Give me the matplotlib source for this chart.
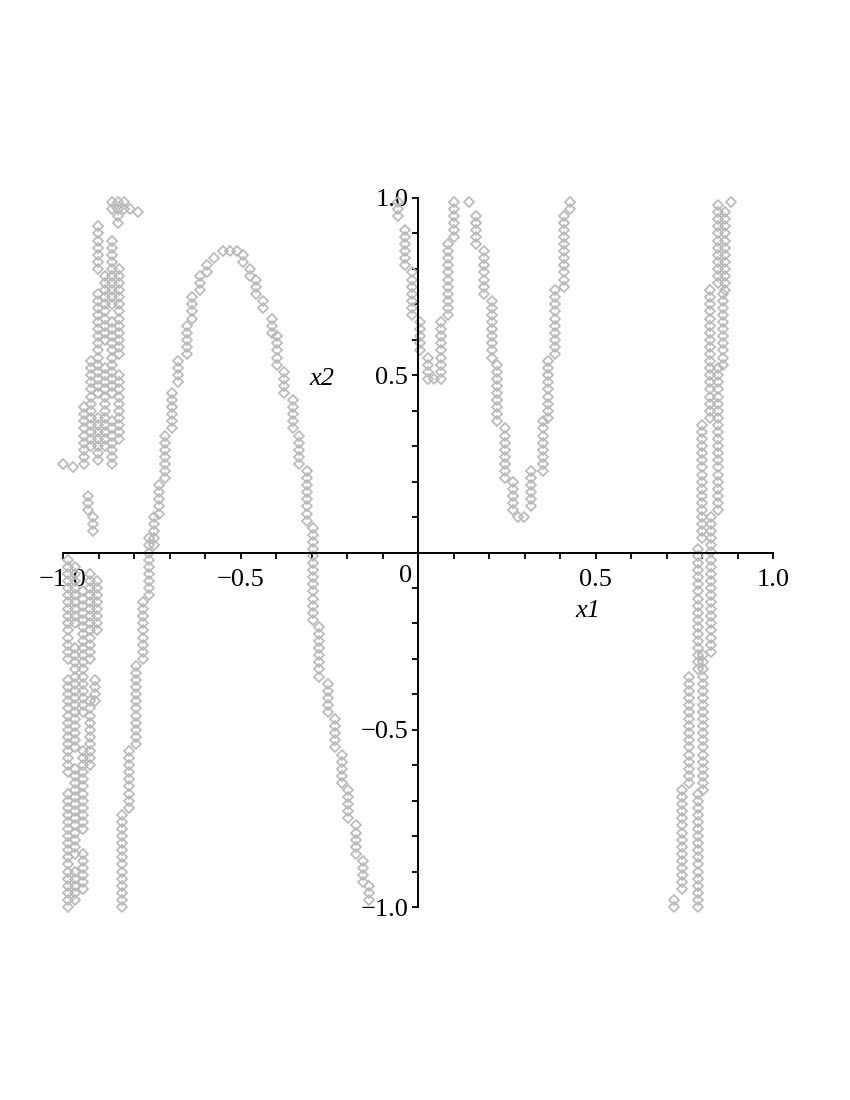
import matplotlib
matplotlib.use("Agg")
import matplotlib.pyplot as plt
import matplotlib.ticker as ticker
import numpy as np

# Vertical runs of markers: (x, y_low, y_high).
# Markers in a run sit on the plot's sampling grid of Y_STEP.
Y_STEP = 0.02

left_cloud_top = [
    (-0.862, 0.97, 0.99), (-0.845, 0.93, 0.99), (-0.828, 0.97, 0.99),
    (-0.810, 0.97, 0.97), (-0.789, 0.96, 0.96),
    (-0.901, 0.80, 0.93), (-0.901, 0.45, 0.73), (-0.901, 0.26, 0.38),
    (-0.882, 0.60, 0.78), (-0.882, 0.30, 0.52),
    (-0.862, 0.70, 0.88), (-0.862, 0.45, 0.65), (-0.862, 0.25, 0.38),
    (-0.842, 0.56, 0.80), (-0.842, 0.32, 0.50),
    (-0.921, 0.30, 0.55), (-0.941, 0.25, 0.42),
    (-1.000, 0.25, 0.25), (-0.972, 0.24, 0.24),
    (-0.930, 0.12, 0.16), (-0.915, 0.06, 0.10),
]

left_cloud_bottom = [
    (-0.985, -0.30, -0.02), (-0.985, -0.62, -0.36), (-0.985, -1.00, -0.68),
    (-0.965, -0.20, -0.04), (-0.965, -0.55, -0.26), (-0.965, -0.85, -0.60),
    (-0.965, -0.98, -0.90),
    (-0.945, -0.45, -0.10), (-0.945, -0.78, -0.55), (-0.945, -0.95, -0.84),
    (-0.925, -0.30, -0.06), (-0.925, -0.60, -0.42),
    (-0.905, -0.22, -0.08), (-0.910, -0.42, -0.36),
]

hump = [
    (-0.834, -1.00, -0.73), (-0.813, -0.72, -0.55), (-0.794, -0.54, -0.32),
    (-0.775, -0.30, -0.14), (-0.758, -0.12, 0.04), (-0.745, 0.02, 0.10),
    (-0.730, 0.11, 0.20), (-0.713, 0.21, 0.34), (-0.693, 0.35, 0.46),
    (-0.676, 0.48, 0.55), (-0.651, 0.56, 0.65), (-0.637, 0.66, 0.72),
    (-0.614, 0.74, 0.78), (-0.594, 0.79, 0.82), (-0.575, 0.83, 0.84),
    (-0.549, 0.85, 0.85), (-0.530, 0.85, 0.85), (-0.510, 0.85, 0.85),
    (-0.493, 0.82, 0.84), (-0.473, 0.78, 0.80), (-0.456, 0.73, 0.77),
    (-0.437, 0.69, 0.72), (-0.411, 0.62, 0.67), (-0.397, 0.53, 0.61),
    (-0.377, 0.45, 0.52), (-0.352, 0.35, 0.44), (-0.335, 0.25, 0.34),
    (-0.313, 0.09, 0.24), (-0.296, -0.19, 0.08), (-0.279, -0.35, -0.20),
    (-0.254, -0.45, -0.37), (-0.234, -0.55, -0.47), (-0.214, -0.65, -0.56),
    (-0.197, -0.75, -0.66), (-0.175, -0.85, -0.76), (-0.155, -0.93, -0.86),
    (-0.138, -0.98, -0.94),
]

w_small = [
    (-0.056, 0.95, 0.99), (-0.037, 0.81, 0.91), (-0.017, 0.67, 0.79),
    (0.006, 0.57, 0.66), (0.028, 0.49, 0.55), (0.045, 0.49, 0.49),
    (0.065, 0.49, 0.66), (0.085, 0.67, 0.88), (0.101, 0.89, 0.99),
]

w_big = [
    (0.144, 0.99, 0.99), (0.163, 0.87, 0.96), (0.186, 0.73, 0.85),
    (0.208, 0.55, 0.72), (0.222, 0.37, 0.54), (0.245, 0.21, 0.36),
    (0.268, 0.12, 0.20), (0.282, 0.10, 0.10), (0.299, 0.10, 0.10),
    (0.318, 0.13, 0.24), (0.352, 0.23, 0.37), (0.366, 0.38, 0.55),
    (0.386, 0.56, 0.74), (0.411, 0.75, 0.96), (0.428, 0.97, 0.99),
]

right_pair_a = [
    (0.721, -1.00, -0.97), (0.744, -0.95, -0.67), (0.763, -0.65, -0.35),
    (0.789, -0.33, 0.02), (0.800, 0.04, 0.37), (0.823, 0.38, 0.75),
    (0.845, 0.76, 0.99),
]

right_pair_b = [
    (0.789, -1.00, -0.68), (0.803, -0.67, -0.29), (0.825, -0.28, 0.11),
    (0.845, 0.12, 0.52), (0.859, 0.53, 0.73), (0.865, 0.74, 0.97),
    (0.882, 0.99, 0.99),
]

curves = [left_cloud_top, left_cloud_bottom, hump, w_small, w_big,
          right_pair_a, right_pair_b]


def runs_to_points(runs):
    xs, ys = [], []
    for x, lo, hi in runs:
        col = np.arange(lo, hi + 1e-9, Y_STEP)
        xs.extend([x] * len(col))
        ys.extend(col)
    return np.array(xs), np.array(ys)


def tick_fmt(v, _):
    s = f"{abs(v):.1f}"
    return "\u2212" + s if v < 0 else s


plt.rcParams["font.family"] = ["Liberation Serif", "DejaVu Serif"]
plt.rcParams["font.size"] = 19

fig = plt.figure(figsize=(8.5, 11), dpi=100)
ax = fig.add_axes([63 / 850, 193 / 1100, 710 / 850, 709 / 1100])

for runs in curves:
    xs, ys = runs_to_points(runs)
    ax.plot(xs, ys, linestyle="none", marker="D", markersize=4.8,
            markerfacecolor="none", markeredgecolor="#b9b9b9",
            markeredgewidth=1.2, clip_on=False)

ax.set_xlim(-1, 1)
ax.set_ylim(-1, 1)

# Maple style: axes cross at the origin
for side in ("top", "right"):
    ax.spines[side].set_visible(False)
ax.spines["left"].set_position(("data", 0))
ax.spines["bottom"].set_position(("data", 0))
ax.spines["left"].set_linewidth(1.4)
ax.spines["bottom"].set_linewidth(1.4)

major = [-1.0, -0.5, 0.5, 1.0]
ax.xaxis.set_major_locator(ticker.FixedLocator(major))
ax.yaxis.set_major_locator(ticker.FixedLocator(major))
minor = [v / 10 for v in range(-9, 10) if v not in (-5, 0, 5)]
ax.xaxis.set_minor_locator(ticker.FixedLocator(minor))
ax.yaxis.set_minor_locator(ticker.FixedLocator(minor))
ax.xaxis.set_major_formatter(ticker.FuncFormatter(tick_fmt))
ax.yaxis.set_major_formatter(ticker.FuncFormatter(tick_fmt))
ax.tick_params(which="both", direction="out", length=4, width=1.3,
               color="black")
ax.tick_params(axis="x", which="major", pad=8)
ax.tick_params(axis="y", which="major", pad=3)

ax.text(-0.034, -0.065, "0", ha="center", va="center")
ax.text(0.479, -0.165, "x1", ha="center", va="center", style="italic")
ax.text(-0.27, 0.49, "x2", ha="center", va="center", style="italic")

fig.savefig("out.png", dpi=100)
